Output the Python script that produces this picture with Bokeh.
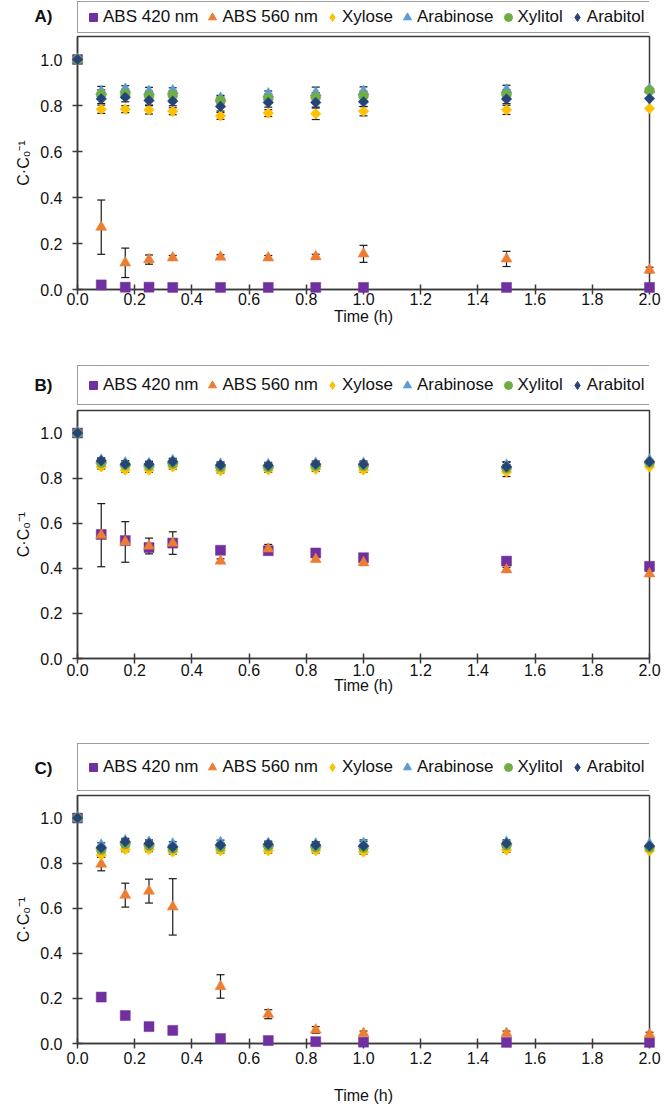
import numpy as np
from bokeh.plotting import figure
from bokeh.core.properties import value
from bokeh.models import Range1d, FixedTicker, PrintfTickFormatter, Legend, LegendItem
from bokeh.layouts import column
from bokeh.embed import file_html
from bokeh.resources import INLINE

# Sampling times (h)
time_h = [0.0, 0.083, 0.167, 0.25, 0.333, 0.5, 0.667, 0.833, 1.0, 1.5, 2.0]
x_ticks = [0.0, 0.2, 0.4, 0.6, 0.8, 1.0, 1.2, 1.4, 1.6, 1.8, 2.0]
y_ticks = [0.0, 0.2, 0.4, 0.6, 0.8, 1.0]

series_names = ["ABS 420 nm", "ABS 560 nm", "Xylose", "Arabinose", "Xylitol", "Arabitol"]

# ---- Panel A: normalised concentration C/C0 and standard deviations ----
abs420_a = [1.0, 0.020, 0.010, 0.010, 0.009, 0.009, 0.009, 0.009, 0.009, 0.009, 0.009]
abs420_a_sd = [0, 0, 0, 0, 0, 0, 0, 0, 0, 0, 0]
abs560_a = [1.0, 0.271, 0.116, 0.130, 0.138, 0.141, 0.138, 0.143, 0.155, 0.133, 0.085]
abs560_a_sd = [0, 0.118, 0.064, 0.020, 0.010, 0.010, 0.010, 0.010, 0.037, 0.033, 0.012]
xylose_a = [1.0, 0.784, 0.784, 0.781, 0.775, 0.755, 0.767, 0.764, 0.775, 0.781, 0.787]
xylose_a_sd = [0, 0.018, 0.015, 0.018, 0.015, 0.015, 0.015, 0.025, 0.020, 0.020, 0]
arabinose_a = [1.0, 0.861, 0.871, 0.861, 0.865, 0.832, 0.851, 0.855, 0.861, 0.868, 0.870]
arabinose_a_sd = [0, 0.022, 0.015, 0.018, 0.012, 0.012, 0.012, 0.025, 0.020, 0.020, 0]
xylitol_a = [1.0, 0.848, 0.851, 0.842, 0.845, 0.822, 0.830, 0.836, 0.842, 0.848, 0.865]
xylitol_a_sd = [0, 0.020, 0.020, 0.020, 0.020, 0.015, 0.020, 0.020, 0.020, 0.020, 0]
arabitol_a = [1.0, 0.829, 0.836, 0.822, 0.819, 0.796, 0.813, 0.813, 0.816, 0.828, 0.830]
arabitol_a_sd = [0, 0.020, 0.020, 0.020, 0.020, 0.020, 0.020, 0.020, 0.020, 0.020, 0]

# ---- Panel B ----
abs420_b = [1.0, 0.550, 0.523, 0.492, 0.512, 0.480, 0.478, 0.468, 0.447, 0.432, 0.409]
abs420_b_sd = [0, 0, 0, 0, 0, 0, 0, 0, 0, 0, 0]
abs560_b = [1.0, 0.547, 0.517, 0.499, 0.512, 0.432, 0.486, 0.440, 0.425, 0.394, 0.376]
abs560_b_sd = [0, 0.140, 0.090, 0.035, 0.050, 0.010, 0.020, 0.010, 0.010, 0.010, 0.010]
xylose_b = [1.0, 0.850, 0.836, 0.836, 0.850, 0.833, 0.836, 0.840, 0.836, 0.827, 0.850]
xylose_b_sd = [0, 0.010, 0.010, 0.010, 0.010, 0.010, 0.010, 0.010, 0.010, 0.020, 0]
arabinose_b = [1.0, 0.880, 0.868, 0.865, 0.878, 0.862, 0.860, 0.866, 0.866, 0.858, 0.880]
arabinose_b_sd = [0, 0.010, 0.010, 0.010, 0.010, 0.010, 0.010, 0.010, 0.010, 0.015, 0]
xylitol_b = [1.0, 0.868, 0.858, 0.855, 0.865, 0.850, 0.850, 0.855, 0.855, 0.845, 0.868]
xylitol_b_sd = [0, 0.010, 0.010, 0.010, 0.010, 0.010, 0.010, 0.010, 0.010, 0.015, 0]
arabitol_b = [1.0, 0.877, 0.862, 0.862, 0.873, 0.858, 0.856, 0.862, 0.862, 0.850, 0.873]
arabitol_b_sd = [0, 0.010, 0.010, 0.010, 0.010, 0.010, 0.010, 0.010, 0.010, 0.020, 0]

# ---- Panel C ----
abs420_c = [1.0, 0.206, 0.124, 0.075, 0.058, 0.022, 0.013, 0.008, 0.006, 0.005, 0.005]
abs420_c_sd = [0, 0, 0, 0, 0, 0, 0, 0, 0, 0, 0]
abs560_c = [1.0, 0.796, 0.658, 0.676, 0.606, 0.253, 0.130, 0.060, 0.045, 0.045, 0.040]
abs560_c_sd = [0, 0.030, 0.053, 0.053, 0.125, 0.052, 0.020, 0.015, 0.010, 0.010, 0.010]
xylose_c = [1.0, 0.836, 0.861, 0.861, 0.850, 0.855, 0.855, 0.855, 0.850, 0.858, 0.855]
xylose_c_sd = [0, 0.010, 0.010, 0.010, 0.010, 0.010, 0.010, 0.010, 0.010, 0.010, 0]
arabinose_c = [1.0, 0.880, 0.900, 0.893, 0.885, 0.892, 0.888, 0.885, 0.888, 0.893, 0.885]
arabinose_c_sd = [0, 0.010, 0.010, 0.010, 0.010, 0.010, 0.010, 0.010, 0.015, 0.010, 0]
xylitol_c = [1.0, 0.860, 0.885, 0.878, 0.865, 0.872, 0.876, 0.872, 0.870, 0.880, 0.870]
xylitol_c_sd = [0, 0.010, 0.010, 0.010, 0.010, 0.010, 0.010, 0.010, 0.010, 0.010, 0]
arabitol_c = [1.0, 0.868, 0.895, 0.887, 0.872, 0.880, 0.884, 0.880, 0.876, 0.887, 0.876]
arabitol_c_sd = [0, 0.010, 0.010, 0.010, 0.010, 0.010, 0.010, 0.010, 0.020, 0.010, 0]

# Marker styling per series: (marker, colour, size, angle, legend marker)
STYLES = [
    ("square", "#7030A0", 10, 0.0, "square"),
    ("triangle", "#ED7D31", 11, 0.0, "triangle"),
    ("square", "#FFC000", 7.5, np.pi / 4, "diamond"),
    ("triangle", "#5B9BD5", 11, 0.0, "triangle"),
    ("circle", "#70AD47", 10, 0.0, "circle"),
    ("square", "#264478", 7.5, np.pi / 4, "diamond"),
]

FONT = "Liberation Sans"
AXIS_COLOR = "#3a3a3a"
ERR_COLOR = "#1a1a1a"
TEXT_COLOR = "#111111"
WIDTH = 664
LEFT = 77
RIGHT = 15
FRAME_W = WIDTH - LEFT - RIGHT


def make_legend_strip(tag, height, box_bottom, row_height, tag_y):
    """Boxed horizontal legend with the panel tag to its left."""
    # x/y ranges in pixels measured from the frame's bottom-left corner
    f = figure(width=WIDTH, height=height, title=None,
               x_range=Range1d(0, FRAME_W), y_range=Range1d(0, height),
               x_axis_location=None, y_axis_location=None,
               min_border=0, min_border_left=LEFT, min_border_right=RIGHT,
               output_backend="svg", toolbar_location=None,
               background_fill_color="white", border_fill_color="white")
    f.outline_line_color = None
    f.grid.grid_line_color = None
    items = []
    for (marker, color, size, angle, leg_marker), name in zip(STYLES, series_names):
        key = f.scatter(x=[np.nan], y=[np.nan], marker=leg_marker,
                        fill_color=color, line_color=color)
        items.append(LegendItem(label=name, renderers=[key]))
    legend = Legend(items=items, orientation="horizontal", location=(0, box_bottom),
                    label_text_font=FONT, label_text_font_size="17px", label_text_color=TEXT_COLOR,
                    glyph_width=20, glyph_height=20, label_standoff=0, label_height=row_height,
                    spacing=4, padding=5, margin=0,
                    border_line_color=AXIS_COLOR, border_line_width=1.5,
                    background_fill_color="white")
    f.add_layout(legend)
    # panel tag, left of the legend box (overlay level so it is not clipped to the frame)
    f.text(x=[34 - LEFT], y=[tag_y], text=[tag], text_font=value(FONT),
           text_font_style="bold", text_font_size="17px", text_baseline="middle",
           text_align="left", text_color=TEXT_COLOR, level="overlay")
    return f


def make_panel(values, sds, height, top, bottom, tick_standoff, title_standoff):
    p = figure(width=WIDTH, height=height, title=None,
               min_border_left=LEFT, min_border_right=RIGHT,
               min_border_top=top, min_border_bottom=bottom,
               x_range=Range1d(0, 2.0), y_range=Range1d(0, 1.1),
               output_backend="svg", toolbar_location=None,
               background_fill_color="white", border_fill_color="white")
    p.outline_line_color = AXIS_COLOR
    p.outline_line_width = 1.5
    p.grid.grid_line_color = None

    # error bars first so the markers sit on top; overlay level keeps edge points unclipped
    for vals, sd in zip(values, sds):
        v = np.asarray(vals, dtype=float)
        e = np.asarray(sd, dtype=float)
        m = e > 0
        if not m.any():
            continue
        t = np.asarray(time_h)[m]
        p.segment(x0=t, y0=(v - e)[m], x1=t, y1=(v + e)[m],
                  line_color=ERR_COLOR, line_width=1.2, level="overlay")
        p.scatter(np.concatenate([t, t]), np.concatenate([(v - e)[m], (v + e)[m]]),
                  marker="dash", size=8, line_color=ERR_COLOR, line_width=1.2, level="overlay")

    for (marker, color, size, angle, _), vals in zip(STYLES, values):
        p.scatter(time_h, vals, marker=marker, size=size, angle=angle,
                  fill_color=color, line_color=color, line_width=0.5, level="overlay")

    for ax in (p.xaxis, p.yaxis):
        ax.axis_line_color = AXIS_COLOR
        ax.axis_line_width = 1.5
        ax.major_tick_line_color = AXIS_COLOR
        ax.major_tick_line_width = 1.5
        ax.major_tick_in = 5
        ax.major_tick_out = 5
        ax.minor_tick_line_color = None
        ax.major_label_text_font = FONT
        ax.major_label_text_font_size = "16px"
        ax.major_label_text_color = TEXT_COLOR
        ax.axis_label_text_font = FONT
        ax.axis_label_text_font_size = "16px"
        ax.axis_label_text_font_style = "normal"
        ax.axis_label_text_color = TEXT_COLOR
        ax.formatter = PrintfTickFormatter(format="%.1f")

    p.xaxis.ticker = FixedTicker(ticks=x_ticks)
    p.yaxis.ticker = FixedTicker(ticks=y_ticks)
    p.xaxis.axis_label = "Time (h)"
    p.yaxis.axis_label = "C·C₀⁻¹"
    p.xaxis.major_label_standoff = tick_standoff
    p.xaxis.axis_label_standoff = title_standoff
    p.yaxis.major_label_standoff = 10
    p.yaxis.axis_label_standoff = 5
    return p


leg_a = make_legend_strip("A)", 34, 1, 20, 18)
pa = make_panel([abs420_a, abs560_a, xylose_a, arabinose_a, xylitol_a, arabitol_a],
                [abs420_a_sd, abs560_a_sd, xylose_a_sd, arabinose_a_sd, xylitol_a_sd, arabitol_a_sd],
                311, 2, 56, -2, 0)
leg_b = make_legend_strip("B)", 63, 3, 28, 23)
pb = make_panel([abs420_b, abs560_b, xylose_b, arabinose_b, xylitol_b, arabitol_b],
                [abs420_b_sd, abs560_b_sd, xylose_b_sd, arabinose_b_sd, xylitol_b_sd, arabitol_b_sd],
                305, 2, 55, 0, -2)
leg_c = make_legend_strip("C)", 80, 2, 36, 25)
pc = make_panel([abs420_c, abs560_c, xylose_c, arabinose_c, xylitol_c, arabitol_c],
                [abs420_c_sd, abs560_c_sd, xylose_c_sd, arabinose_c_sd, xylitol_c_sd, arabitol_c_sd],
                317, 2, 67, 3, 20)

layout = column(leg_a, pa, leg_b, pb, leg_c, pc, spacing=0)
open("out.html", "w").write(file_html(layout, INLINE))
